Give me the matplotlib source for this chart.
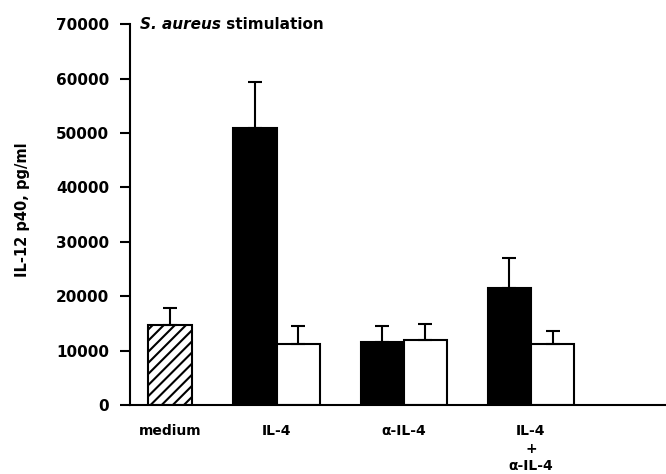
import numpy as np
import matplotlib.pyplot as plt

# Data (pg/ml)
groups = ['medium', 'IL-4', '\u03b1-IL-4', 'IL-4\n+\n\u03b1-IL-4']
medium_val = 14700
medium_err = 3100
black_vals = [50900, 11600, 21500]
black_errs = [8500, 2900, 5500]
white_vals = [11200, 11900, 11200]
white_errs = [3300, 3000, 2400]

yticks = [0, 10000, 20000, 30000, 40000, 50000, 60000, 70000]

plt.rcParams['font.family'] = 'DejaVu Sans'
plt.rcParams['font.weight'] = 'bold'
plt.rcParams['hatch.linewidth'] = 1.5

fig = plt.figure(figsize=(6.66, 4.74), dpi=100, facecolor='white')
ax = fig.add_axes([0.195, 0.1456, 0.805, 0.8035])

w = 1.0
centers = np.array([0, 2.47, 5.42, 8.37])
pair_c = centers[1:]

ekw = dict(ecolor='black', elinewidth=1.5, capsize=5, capthick=1.5)

# medium (hatched)
ax.bar(centers[0], medium_val, width=w, color='white', edgecolor='black',
       linewidth=1.5, hatch='///', yerr=[[0], [medium_err]], error_kw=ekw, zorder=2)

# paired bars
ax.bar(pair_c - w / 2, black_vals, width=w, color='black', edgecolor='black',
       linewidth=1.5, yerr=[np.zeros(3), black_errs], error_kw=ekw, zorder=2)
ax.bar(pair_c + w / 2, white_vals, width=w, color='white', edgecolor='black',
       linewidth=1.5, yerr=[np.zeros(3), white_errs], error_kw=ekw, zorder=2)

ax.set_xlim(-0.93, 11.5)
ax.set_ylim(0, 70000)
ax.set_yticks(yticks)
ax.set_yticklabels([str(v) for v in yticks], fontsize=11, fontweight='bold')

ax.set_xticks(centers)
ax.set_xticklabels(groups, fontsize=10, fontweight='bold')
for lbl in ax.get_xticklabels():
    lbl.set_linespacing(1.3)
ax.tick_params(axis='x', length=0, pad=14)
ax.tick_params(axis='y', length=7, width=1.5, pad=8)

for s in ['top', 'right']:
    ax.spines[s].set_visible(False)
for s in ['left', 'bottom']:
    ax.spines[s].set_linewidth(1.5)

ax.set_ylabel('IL-12 p40, pg/ml', fontsize=10.5, fontweight='bold')
ax.yaxis.set_label_coords(-0.187, 0.514)

# title: italic organism name + plain word
t1 = ax.text(-0.7, 70000, 'S. aureus', fontsize=11, fontweight='bold',
             fontstyle='italic', va='center', ha='left')
ax.annotate(' stimulation', xy=(1, 0), xycoords=t1, va='bottom', ha='left',
            fontsize=11, fontweight='bold')

fig.savefig('out.png', dpi=100)
